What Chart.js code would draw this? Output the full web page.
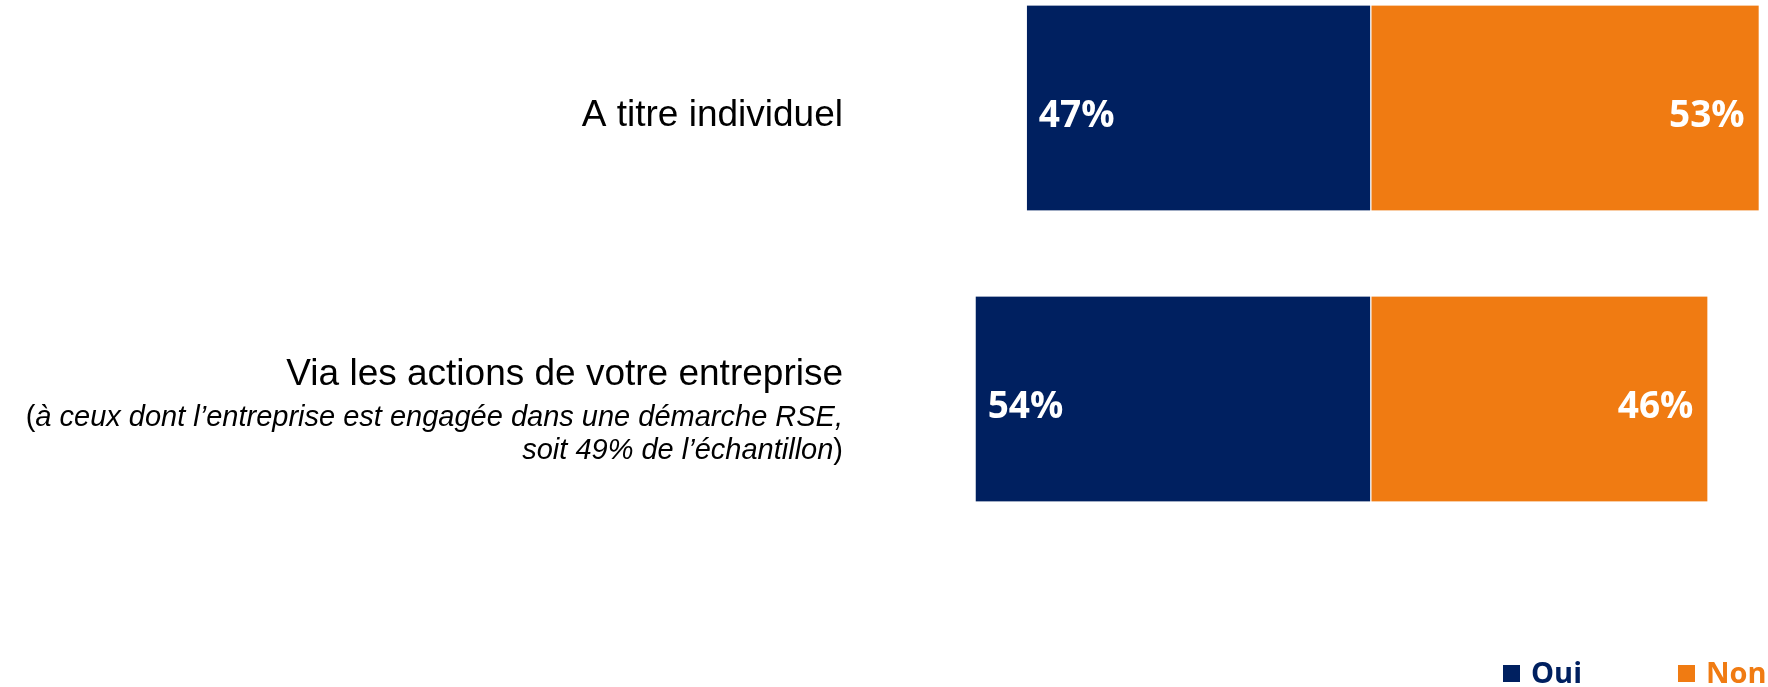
<!DOCTYPE html>
<html lang="fr">
<head>
<meta charset="utf-8">
<title>Oui / Non</title>
<script src="https://cdn.jsdelivr.net/npm/chart.js@4/dist/chart.umd.min.js"></script>
<style>
  html, body { margin: 0; padding: 0; background: #ffffff; }
  #wrap { width: 1768px; height: 687px; position: relative; }
</style>
</head>
<body>
<div id="wrap"><canvas id="chart"></canvas></div>
<script>
// Données du graphique
const categories = ['A titre individuel', 'Via les actions de votre entreprise'];
const notes = [
    [],
    ['à ceux dont l\u2019entreprise est engagée dans une démarche RSE,', 'soit 49% de l\u2019échantillon']
];
const seriesNames = ['Oui', 'Non'];
const oui = [47, 54];
const non = [53, 46];

const NAVY = '#002060';
const ORANGE = '#F07B12';

// Libellés des catégories, dessinés à gauche des barres
const categoryLabels = {
    id: 'categoryLabels',
    afterDraw(chart) {
        const ctx = chart.ctx;
        const y = chart.scales.y;
        const right = 843;
        ctx.save();
        ctx.fillStyle = '#000000';
        ctx.textAlign = 'right';
        ctx.textBaseline = 'alphabetic';
        categories.forEach((label, i) => {
            const c = y.getPixelForTick(i);
            const sub = notes[i];
            ctx.font = '37px "Liberation Sans", Arial, sans-serif';
            if (!sub.length) {
                ctx.fillText(label, right, c + 18);
                return;
            }
            ctx.fillText(label, right, c - 14);
            // lignes en italique, parenthèses en romain
            sub.forEach((line, k) => {
                const base = c + 27 + k * 33;
                let x = right;
                if (k === sub.length - 1) {
                    ctx.font = '29px "Liberation Sans", Arial, sans-serif';
                    ctx.fillText(')', x, base);
                    x -= ctx.measureText(')').width;
                }
                ctx.font = 'italic 29px "Liberation Sans", Arial, sans-serif';
                ctx.fillText(line, x, base);
                x -= ctx.measureText(line).width;
                if (k === 0) {
                    ctx.font = '29px "Liberation Sans", Arial, sans-serif';
                    ctx.fillText('(', x, base);
                }
            });
        });
        ctx.restore();
    }
};

// Pourcentages en blanc dans les barres
const valueLabels = {
    id: 'valueLabels',
    afterDatasetsDraw(chart) {
        const ctx = chart.ctx;
        ctx.save();
        ctx.font = 'bold 37px "Open Sans", sans-serif';
        ctx.fillStyle = '#ffffff';
        ctx.textBaseline = 'alphabetic';
        chart.data.datasets.forEach((ds, di) => {
            chart.getDatasetMeta(di).data.forEach((bar, i) => {
                const txt = Math.abs(ds.data[i]) + '%';
                const left = Math.min(bar.x, bar.base);
                const rightEdge = Math.max(bar.x, bar.base);
                if (di === 0) {
                    ctx.textAlign = 'left';
                    ctx.fillText(txt, left + 12, bar.y + 19);
                } else {
                    ctx.textAlign = 'right';
                    ctx.fillText(txt, rightEdge - 14, bar.y + 19);
                }
            });
        });
        ctx.restore();
    }
};

// Légende en bas à droite
const bottomLegend = {
    id: 'bottomLegend',
    afterDraw(chart) {
        const ctx = chart.ctx;
        let x = 1503;
        const top = 665;
        ctx.save();
        ctx.font = 'bold 29px "Open Sans", sans-serif';
        ctx.textAlign = 'left';
        ctx.textBaseline = 'alphabetic';
        chart.data.datasets.forEach(ds => {
            ctx.fillStyle = ds.backgroundColor;
            ctx.fillRect(x, top, 17, 17);
            ctx.fillText(ds.label, x + 28, top + 18);
            x += 28 + ctx.measureText(ds.label).width + 96;
        });
        ctx.restore();
    }
};

const data = {
    labels: categories,
    datasets: [
        {
            label: seriesNames[0],
            data: oui.map(v => -v),
            backgroundColor: NAVY,
            borderColor: '#ffffff',
            borderWidth: { top: 0, bottom: 0, left: 0, right: 1 },
            borderSkipped: false
        },
        {
            label: seriesNames[1],
            data: non,
            backgroundColor: ORANGE,
            borderColor: '#ffffff',
            borderWidth: { top: 0, bottom: 0, left: 1, right: 0 },
            borderSkipped: false
        }
    ]
};

new Chart(document.getElementById('chart'), {
    type: 'bar',
    data: data,
    options: {
        indexAxis: 'y',
        responsive: true,
        maintainAspectRatio: false,
        animation: false,
        layout: { padding: { left: 639, right: 2, top: 108, bottom: 288 } },
        datasets: { bar: { barThickness: 205, clip: false } },
        scales: {
            x: { type: 'linear', min: -100, max: 54, stacked: true, display: false },
            y: { type: 'category', stacked: true, display: false, offset: false }
        },
        plugins: {
            legend: { display: false },
            tooltip: { enabled: false }
        }
    },
    plugins: [categoryLabels, valueLabels, bottomLegend]
});
</script>
</body>
</html>
